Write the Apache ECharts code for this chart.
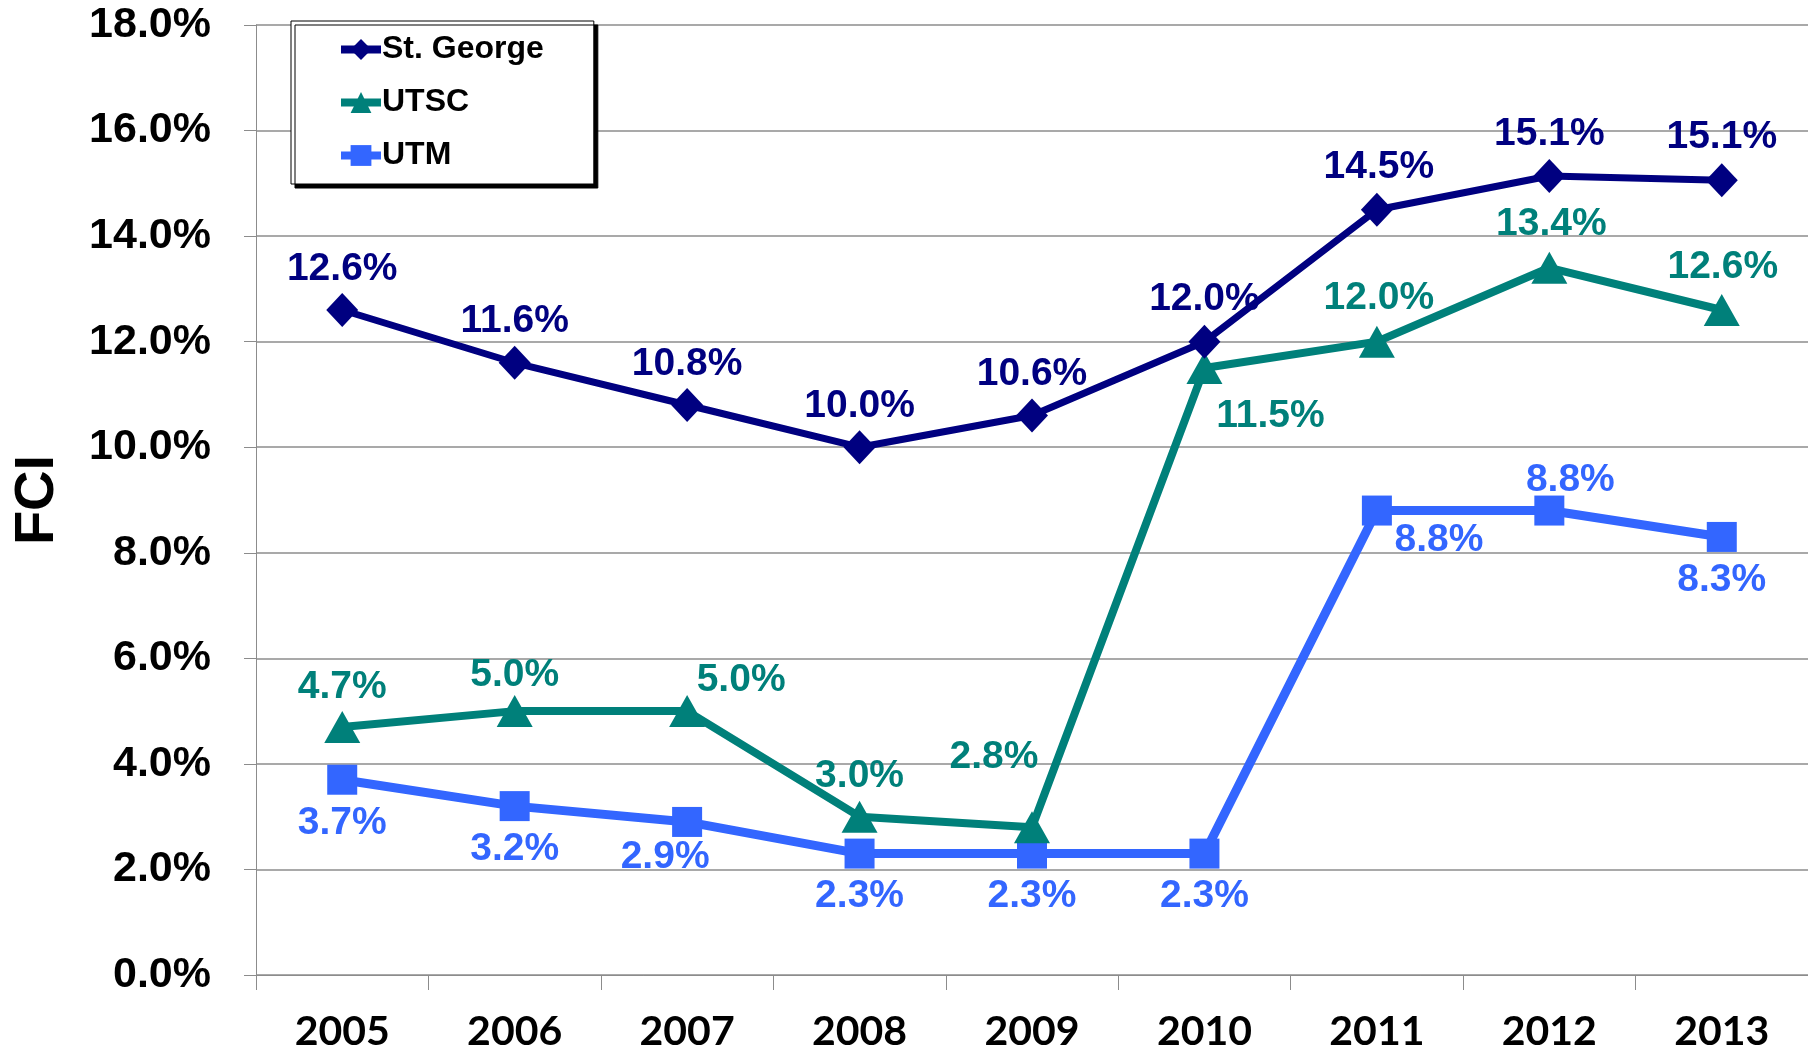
<!DOCTYPE html>
<html>
<head>
<meta charset="utf-8">
<title>FCI</title>
<script src="https://cdn.jsdelivr.net/npm/echarts@6/dist/echarts.min.js"></script>
<style>
  html, body { margin: 0; padding: 0; background: #fff; }
  #chart { width: 1808px; height: 1053px; }
</style>
</head>
<body>
<div id="chart"></div>
<script>
// data
const years = ['2005', '2006', '2007', '2008', '2009', '2010', '2011', '2012', '2013']
const stGeorge = [12.6, 11.6, 10.8, 10.0, 10.6, 12.0, 14.5, 15.14, 15.06]
const utsc = [4.7, 5.0, 5.0, 3.0, 2.8, 11.5, 12.0, 13.4, 12.6]
const utm = [3.7, 3.2, 2.9, 2.3, 2.3, 2.3, 8.8, 8.8, 8.3]

// label offsets (px) relative to each point
const sgLabelOffset = [[0, -41], [0, -42], [0, -41], [0, -41], [0, -41], [0, -42], [2, -42], [0, -42], [0, -43]]
const utscLabelOffset = [[0, -40], [0, -36], [54, -31], [0, -40], [-38, -70], [66, 48], [2, -43], [2, -44], [1, -43]]
const utmLabelOffset = [[0, 44], [0, 43], [-22, 35], [0, 43], [0, 43], [0, 43], [62, 30], [21, -30], [0, 43]]

const colors = {
  sg: '#000080',
  utsc: '#00807a',
  utm: '#3366ff',
  grid: '#8c8c8c'
}
const font = '"Liberation Sans", Arial, sans-serif'

const buildData = (values, offsets, color) => values.map((v, i) => ({
  value: v,
  label: {
    show: true,
    position: 'inside',
    offset: offsets[i],
    color: color,
    fontFamily: font,
    fontWeight: 'bold',
    fontSize: 39,
    formatter: (p) => p.value.toFixed(1) + '%'
  }
}))

const chart = echarts.init(document.getElementById('chart'))
chart.setOption({
  animation: false,
  grid: { left: 256, right: 0, top: 25, bottom: 78, containLabel: false, outerBoundsMode: 'none' },
  legend: {
    orient: 'vertical',
    left: 291,
    top: 21,
    padding: [12, 50, 12, 46],
    itemGap: 20,
    itemWidth: 40,
    itemHeight: 26,
    backgroundColor: '#fff',
    borderColor: '#000',
    borderWidth: 1,
    shadowColor: '#000',
    shadowBlur: 0,
    shadowOffsetX: 4,
    shadowOffsetY: 4,
    lineStyle: { width: 8 },
    textStyle: {
      fontFamily: font,
      fontWeight: 'bold',
      fontSize: 32,
      lineHeight: 33,
      color: '#000',
      padding: [0, 0, 0, -4]
    },
    data: ['St. George', 'UTSC', 'UTM']
  },
  xAxis: {
    type: 'category',
    data: years,
    boundaryGap: true,
    axisLine: { lineStyle: { color: colors.grid, width: 1 } },
    axisTick: { show: true, length: 15, lineStyle: { color: colors.grid } },
    axisLabel: {
      margin: 36,
      color: '#000',
      fontFamily: 'Lato, "Open Sans", sans-serif',
      fontWeight: 'bold',
      fontSize: 41
    }
  },
  yAxis: {
    type: 'value',
    min: 0,
    max: 18,
    interval: 2,
    name: 'FCI',
    nameLocation: 'middle',
    nameRotate: 90,
    nameGap: 190,
    nameTextStyle: {
      fontFamily: font,
      fontWeight: 'bold',
      fontSize: 56,
      color: '#000'
    },
    axisLine: { show: true, lineStyle: { color: colors.grid, width: 1 } },
    axisTick: { show: true, length: 12, lineStyle: { color: colors.grid } },
    splitLine: { lineStyle: { color: colors.grid, width: 1.5 } },
    axisLabel: {
      margin: 45,
      color: '#000',
      fontFamily: font,
      fontWeight: 'bold',
      fontSize: 43,
      formatter: (v) => v.toFixed(1) + '%'
    }
  },
  series: [
    {
      name: 'St. George',
      type: 'line',
      z: 4,
      data: buildData(stGeorge, sgLabelOffset, colors.sg),
      symbol: 'diamond',
      symbolSize: [32, 34],
      lineStyle: { color: colors.sg, width: 7 },
      itemStyle: { color: colors.sg }
    },
    {
      name: 'UTSC',
      type: 'line',
      z: 3,
      data: buildData(utsc, utscLabelOffset, colors.utsc),
      symbol: 'triangle',
      symbolSize: [36, 32],
      lineStyle: { color: colors.utsc, width: 8 },
      itemStyle: { color: colors.utsc }
    },
    {
      name: 'UTM',
      type: 'line',
      z: 2,
      data: buildData(utm, utmLabelOffset, colors.utm),
      symbol: 'rect',
      symbolSize: 30,
      lineStyle: { color: colors.utm, width: 9 },
      itemStyle: { color: colors.utm }
    }
  ]
})
</script>
</body>
</html>
